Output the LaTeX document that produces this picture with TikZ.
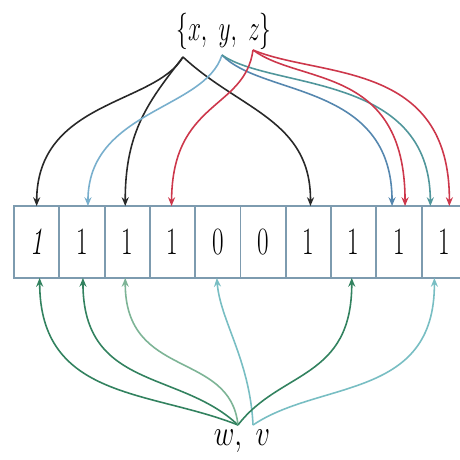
\documentclass[tikz,border=0pt]{standalone}
\usepackage{graphicx}
\usetikzlibrary{arrows.meta,calc}
\definecolor{cellline}{RGB}{125,155,175}
\definecolor{blk}{RGB}{40,40,40}
\definecolor{redc}{RGB}{205,55,75}
\definecolor{lblue}{RGB}{120,175,205}
\definecolor{sblue}{RGB}{85,135,175}
\definecolor{tealc}{RGB}{80,150,155}
\definecolor{dgreen}{RGB}{50,130,95}
\definecolor{lgreen}{RGB}{125,180,150}
\definecolor{lteal}{RGB}{120,190,195}
\newcommand{\nar}[1]{\scalebox{0.65}[1]{#1}}
\tikzset{
  cell/.style={draw=cellline, line width=1.1pt, minimum width=0.906cm, minimum height=1.44cm, inner sep=0pt, font=\fontsize{22}{24}\selectfont},
  conn/.style={line width=0.9pt, -{Stealth[length=5pt,width=4pt]}},
  lbl/.style={font=\fontsize{22}{24}\selectfont, inner sep=0pt}
}
\begin{document}
\begin{tikzpicture}[x=0.02cm,y=-0.02cm]
\useasboundingbox (0,0) rectangle (460,460);
\clip (0,0) rectangle (460,460);
\fill[white] (0,0) rectangle (460,460);
% cells
\foreach \i/\v in {1/\textit{1},2/1,3/1,4/1,5/0,6/0,7/1,8/1,9/1,10/1}{
  \node[cell] (c\i) at ({14+45.3*(\i-0.5)},242) {\nar{\v}};
}
% labels
\node[lbl] (top) at (224,31) {\scalebox{0.64}[1]{$\{x,\ y,\ z\}$}};
\node[lbl, font=\fontsize{21}{23}\selectfont] (bot) at (242,441) {\scalebox{0.78}[1]{$w,\ v$}};
\coordinate (sx) at (183,57);
\coordinate (sy) at (222,55);
\coordinate (sz) at (253,50);
\coordinate (sw) at (238,425);
\coordinate (sv) at (253,425);
% black from x
\draw[conn, blk] (sx) .. controls (155,105) and (37,100) .. ($(c1.north)+(0,1)$);
\draw[conn, blk] (sx) .. controls (150,100) and (125,130) .. ($(c3.north)+(-2,1)$);
\draw[conn, blk] (sx) .. controls (240,110) and (311,120) .. ($(c7.north)+(2,1)$);
% blue from y
\draw[conn, lblue] (sy) .. controls (205,110) and (88,110) .. ($(c2.north)+(6,1)$);
\draw[conn, sblue] (sy) .. controls (262,97) and (392,82) .. ($(c9.north)+(-7,1)$);
\draw[conn, tealc] (sy) .. controls (272,90) and (430,72) .. ($(c10.north)+(-14,1)$);
% red from z
\draw[conn, redc] (sz) .. controls (245,110) and (172,100) .. ($(c4.north)+(-1,1)$);
\draw[conn, redc] (sz) .. controls (300,85) and (405,65) .. ($(c9.north)+(6,1)$);
\draw[conn, redc] (sz) .. controls (320,78) and (450,60) .. ($(c10.north)+(5,1)$);
% green from w, v
\draw[conn, dgreen] (sw) .. controls (150,390) and (40,400) .. ($(c1.south)+(3,-1)$);
\draw[conn, dgreen] (sw) .. controls (180,370) and (83,390) .. ($(c2.south)+(1,-1)$);
\draw[conn, lgreen] (sw) .. controls (230,350) and (125,380) .. ($(c3.south)+(-2,-1)$);
\draw[conn, lteal] (sv) .. controls (250,360) and (220,320) .. ($(c5.south)+(-1,-1)$);
\draw[conn, dgreen] (sw) .. controls (280,370) and (352,380) .. ($(c8.south)+(-2,-1)$);
\draw[conn, lteal] (sv) .. controls (320,380) and (435,400) .. ($(c10.south)+(-10,-1)$);
\end{tikzpicture}
\end{document}
